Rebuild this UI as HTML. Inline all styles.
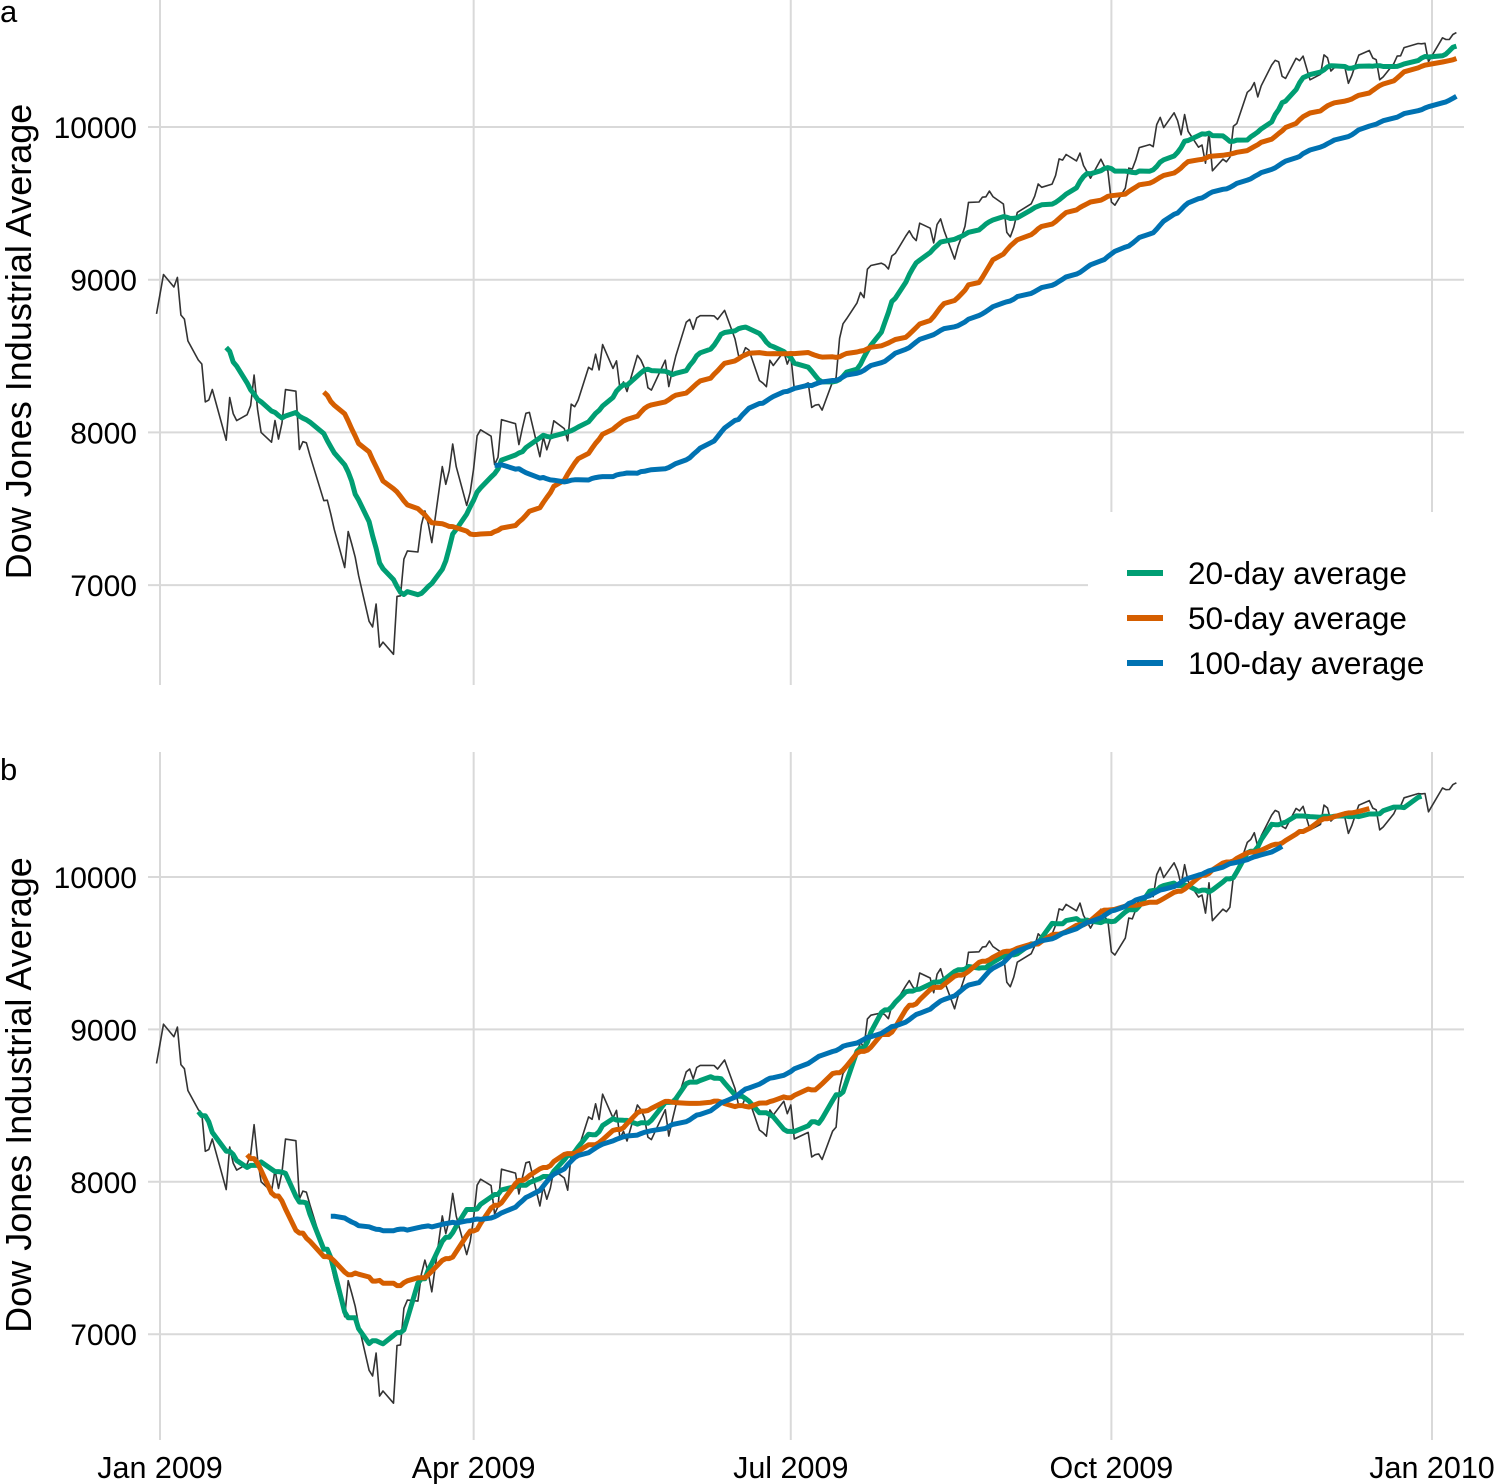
<!DOCTYPE html>
<html><head><meta charset="utf-8">
<style>
html,body{margin:0;padding:0;background:#fff;}
svg{display:block;font-family:"Liberation Sans",sans-serif;}
</style></head>
<body>
<svg id="chart" width="1496" height="1484" viewBox="0 0 1496 1484" xmlns="http://www.w3.org/2000/svg"></svg>
<script>
const dates = ["2008-12-31","2009-01-02","2009-01-05","2009-01-06","2009-01-07","2009-01-08","2009-01-09","2009-01-12","2009-01-13","2009-01-14","2009-01-15","2009-01-16","2009-01-20","2009-01-21","2009-01-22","2009-01-23","2009-01-26","2009-01-27","2009-01-28","2009-01-29","2009-01-30","2009-02-02","2009-02-03","2009-02-04","2009-02-05","2009-02-06","2009-02-09","2009-02-10","2009-02-11","2009-02-12","2009-02-13","2009-02-17","2009-02-18","2009-02-19","2009-02-20","2009-02-23","2009-02-24","2009-02-25","2009-02-26","2009-02-27","2009-03-02","2009-03-03","2009-03-04","2009-03-05","2009-03-06","2009-03-09","2009-03-10","2009-03-11","2009-03-12","2009-03-13","2009-03-16","2009-03-17","2009-03-18","2009-03-19","2009-03-20","2009-03-23","2009-03-24","2009-03-25","2009-03-26","2009-03-27","2009-03-30","2009-03-31","2009-04-01","2009-04-02","2009-04-03","2009-04-06","2009-04-07","2009-04-08","2009-04-09","2009-04-13","2009-04-14","2009-04-15","2009-04-16","2009-04-17","2009-04-20","2009-04-21","2009-04-22","2009-04-23","2009-04-24","2009-04-27","2009-04-28","2009-04-29","2009-04-30","2009-05-01","2009-05-04","2009-05-05","2009-05-06","2009-05-07","2009-05-08","2009-05-11","2009-05-12","2009-05-13","2009-05-14","2009-05-15","2009-05-18","2009-05-19","2009-05-20","2009-05-21","2009-05-22","2009-05-26","2009-05-27","2009-05-28","2009-05-29","2009-06-01","2009-06-02","2009-06-03","2009-06-04","2009-06-05","2009-06-08","2009-06-09","2009-06-10","2009-06-11","2009-06-12","2009-06-15","2009-06-16","2009-06-17","2009-06-18","2009-06-19","2009-06-22","2009-06-23","2009-06-24","2009-06-25","2009-06-26","2009-06-29","2009-06-30","2009-07-01","2009-07-02","2009-07-06","2009-07-07","2009-07-08","2009-07-09","2009-07-10","2009-07-13","2009-07-14","2009-07-15","2009-07-16","2009-07-17","2009-07-20","2009-07-21","2009-07-22","2009-07-23","2009-07-24","2009-07-27","2009-07-28","2009-07-29","2009-07-30","2009-07-31","2009-08-03","2009-08-04","2009-08-05","2009-08-06","2009-08-07","2009-08-10","2009-08-11","2009-08-12","2009-08-13","2009-08-14","2009-08-17","2009-08-18","2009-08-19","2009-08-20","2009-08-21","2009-08-24","2009-08-25","2009-08-26","2009-08-27","2009-08-28","2009-08-31","2009-09-01","2009-09-02","2009-09-03","2009-09-04","2009-09-08","2009-09-09","2009-09-10","2009-09-11","2009-09-14","2009-09-15","2009-09-16","2009-09-17","2009-09-18","2009-09-21","2009-09-22","2009-09-23","2009-09-24","2009-09-25","2009-09-28","2009-09-29","2009-09-30","2009-10-01","2009-10-02","2009-10-05","2009-10-06","2009-10-07","2009-10-08","2009-10-09","2009-10-12","2009-10-13","2009-10-14","2009-10-15","2009-10-16","2009-10-19","2009-10-20","2009-10-21","2009-10-22","2009-10-23","2009-10-26","2009-10-27","2009-10-28","2009-10-29","2009-10-30","2009-11-02","2009-11-03","2009-11-04","2009-11-05","2009-11-06","2009-11-09","2009-11-10","2009-11-11","2009-11-12","2009-11-13","2009-11-16","2009-11-17","2009-11-18","2009-11-19","2009-11-20","2009-11-23","2009-11-24","2009-11-25","2009-11-27","2009-11-30","2009-12-01","2009-12-02","2009-12-03","2009-12-04","2009-12-07","2009-12-08","2009-12-09","2009-12-10","2009-12-11","2009-12-14","2009-12-15","2009-12-16","2009-12-17","2009-12-18","2009-12-21","2009-12-22","2009-12-23","2009-12-24","2009-12-28","2009-12-29","2009-12-30","2009-12-31","2010-01-04","2010-01-05","2010-01-06","2010-01-07","2010-01-08"];
const closes = [8776,9034,8952,9015,8769,8742,8599,8474,8448,8200,8212,8281,7949,8228,8123,8077,8116,8175,8375,8149,8000,7936,8078,7956,8063,8280,8270,7888,7939,7932,7850,7553,7556,7465,7366,7115,7351,7270,7183,7063,6763,6726,6876,6594,6627,6547,6926,6930,7170,7224,7217,7395,7486,7400,7278,7776,7660,7749,7924,7776,7522,7609,7761,7978,8017,7975,7789,7837,8083,8057,7920,8029,8125,8131,7841,7969,7886,7957,8076,8025,7945,8185,8168,8212,8426,8410,8512,8409,8575,8419,8469,8284,8331,8268,8504,8474,8422,8293,8277,8473,8300,8404,8500,8721,8740,8675,8750,8764,8764,8763,8740,8770,8799,8612,8504,8497,8555,8539,8340,8323,8299,8472,8438,8529,8447,8504,8281,8324,8163,8178,8183,8146,8332,8359,8616,8711,8743,8848,8916,8882,9069,9093,9108,9096,9070,9155,9172,9286,9320,9280,9256,9370,9337,9241,9362,9398,9321,9135,9218,9280,9350,9506,9509,9540,9543,9580,9544,9496,9310,9280,9344,9441,9497,9547,9627,9605,9626,9683,9791,9783,9820,9778,9829,9748,9707,9665,9789,9742,9712,9509,9488,9599,9731,9725,9786,9865,9885,9871,10016,10063,9996,10093,10041,9949,10081,9972,9868,9882,9763,9962,9713,9789,9772,9802,10005,10023,10227,10247,10291,10197,10270,10406,10437,10426,10332,10318,10450,10434,10464,10309,10345,10472,10453,10367,10389,10390,10286,10337,10406,10471,10501,10452,10441,10309,10328,10414,10464,10466,10520,10547,10545,10548,10428,10584,10573,10574,10606,10618];
const windows = [20,50,100];
const seriesLabels = ["20-day average","50-day average","100-day average"];
const seriesColors = ["#009E73","#D55E00","#0072B2"];
const yTicks = [7000,8000,9000,10000];
const xTickLabels = ["Jan 2009","Apr 2009","Jul 2009","Oct 2009","Jan 2010"];
const xTickDates = ["2009-01-01","2009-04-01","2009-07-01","2009-10-01","2010-01-01"];

const NS="http://www.w3.org/2000/svg";
const svg=document.getElementById('chart');
const DAY=86400000, T0=Date.UTC(2009,0,1);
function dayNum(s){const p=s.split('-');return (Date.UTC(+p[0],+p[1]-1,+p[2])-T0)/DAY;}
function xScale(d){return 160+d*(1432-160)/365;}
const panels=[{y10k:127,ppk:152.7,label:"a",top:0,bot:685,mode:"trailing",tol:3},{y10k:877,ppk:152.4,label:"b",top:752,bot:1440,mode:"centered",tol:0}];
function el(tag,attrs,parent){const e=document.createElementNS(NS,tag);for(const k in attrs)e.setAttribute(k,attrs[k]);(parent||svg).appendChild(e);return e;}
const days=dates.map(dayNum);

panels.forEach((P,pi)=>{
  const yScale=v=>P.y10k+(10000-v)*P.ppk/1000;
  const g=el('g',{});
  
  
  const grid=el('g',{},g);
  
  
  yTicks.forEach(t=>{
    const y=yScale(t);
    let x2=1464;
    if(pi===0&&t===7000)x2=1088;
    const l=el('line',{x1:148,x2:x2,y1:y,y2:y,stroke:'#d9d9d9','stroke-width':2},grid);
    
    
    const tx=el('text',{x:137,y:y+11,'text-anchor':'end','font-size':30,fill:'#000'},g);
    tx.textContent=t;
    
    
  });
  xTickDates.forEach((d,i)=>{
    const x=xScale(dayNum(d));
    const y1=(pi===0&&i>=3)?512:P.bot;
    const l=el('line',{x1:x,x2:x,y1:P.top,y2:y1,stroke:'#d9d9d9','stroke-width':2},grid);
    
    
  });
  const yt=el('text',{transform:`translate(31,${(P.top+P.bot)/2-1}) rotate(-90)`,'text-anchor':'middle','font-size':36,fill:'#000'},g);
  yt.textContent="Dow Jones Industrial Average";
  
  
  const pl=el('text',{x:0,y:P.top+(pi===0?22:28),'font-size':31,fill:'#000'},g);
  pl.textContent=P.label;
  
  

  const raw=el('path',{d:days.map((d,i)=>(i?'L':'M')+xScale(d).toFixed(1)+','+yScale(closes[i]).toFixed(1)).join(''),fill:'none',stroke:'#333','stroke-width':1.6,'stroke-linejoin':'round'},g);
  
  

  const first=days[0],last=days[days.length-1];
  windows.forEach((w,si)=>{
    const pts=[];
    days.forEach((d,i)=>{
      let lo,hi;
      if(P.mode==="trailing"){lo=d-w;hi=d;}else{lo=d-w/2;hi=d+w/2;}
      if(lo<first-P.tol||hi>last)return;
      let s=0,n=0;
      days.forEach((dd,j)=>{if(dd>lo&&dd<=hi){s+=closes[j];n++;}});
      if(n)pts.push([xScale(d),yScale(s/n)]);
    });
    const p=el('path',{d:pts.map((q,i)=>(i?'L':'M')+q[0].toFixed(1)+','+q[1].toFixed(1)).join(''),fill:'none',stroke:seriesColors[si],'stroke-width':5,'stroke-linejoin':'round'},g);
    
    
  });
});

const lg=el('g',{});


seriesLabels.forEach((s,i)=>{
  const y=573+i*45;
  const l=el('line',{x1:1127,x2:1163,y1:y,y2:y,stroke:seriesColors[i],'stroke-width':6},lg);
  
  
  const t=el('text',{x:1188,y:y+11,'font-size':31.5,fill:'#000'},lg);
  t.textContent=s;
  
  
});
xTickDates.forEach((d,i)=>{
  const t=el('text',{x:xScale(dayNum(d)),y:1478,'text-anchor':'middle','font-size':30.5,fill:'#000'});
  t.textContent=xTickLabels[i];
  
  
});
</script>
</body></html>
